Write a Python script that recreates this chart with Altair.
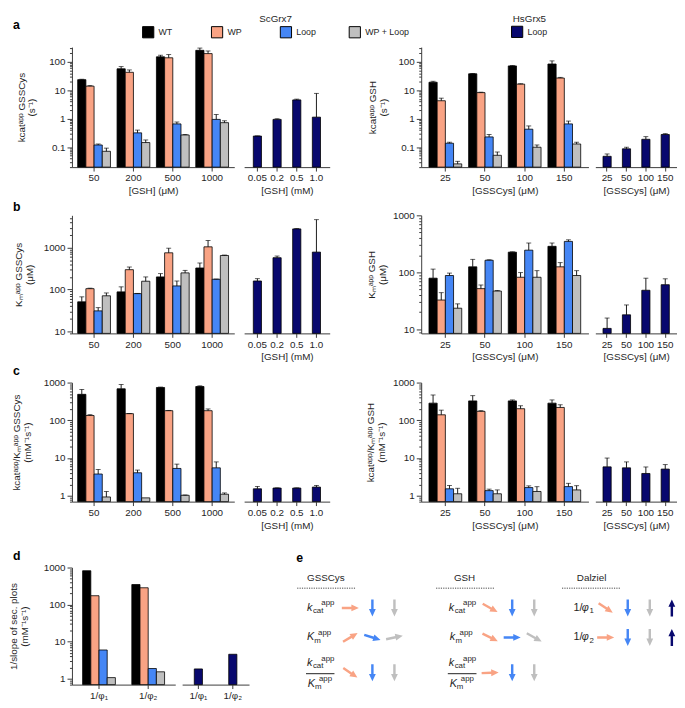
import math
import altair as alt
import pandas as pd

FONT = "Liberation Sans"
INK = "#1f1f1f"
AXC = "#3a3a3a"

VARIANTS = ["WT", "WP", "Loop", "WP + Loop"]
COLORS = ["#000000", "#F9A384", "#4586F5", "#BFBFBF"]
NAVY = "#08086E"

# ---------------- data ----------------
a_sc_conc = ["50", "200", "500", "1000"]
a_sc = {"WT": [23.7, 57, 150, 254], "WP": [14, 43, 139, 195],
        "Loop": [0.12, 0.32, 0.66, 0.95], "WP + Loop": [0.072, 0.146, 0.27, 0.73]}
a_sc_up = {"WT": [24.5, 68, 171, 305], "WP": [14.6, 52, 180, 241],
           "Loop": [0.13, 0.40, 0.77, 1.41], "WP + Loop": [0.093, 0.18, 0.28, 0.85]}
a_scl_conc = ["0.05", "0.2", "0.5", "1.0"]
a_scl = [0.247, 0.95, 4.6, 1.14]
a_scl_up = [0.25, 1.0, 4.9, 7.8]
a_hs_conc = ["25", "50", "100", "150"]
a_hs = {"WT": [19.2, 38, 72, 84], "WP": [4.3, 8.3, 16.5, 27],
        "Loop": [0.138, 0.23, 0.43, 0.66], "WP + Loop": [0.026, 0.052, 0.10, 0.13]}
a_hs_up = {"WT": [20.8, 39, 74, 108], "WP": [5.3, 8.6, 17, 28.5],
           "Loop": [0.15, 0.28, 0.56, 0.83], "WP + Loop": [0.032, 0.068, 0.12, 0.15]}
a_hsl_conc = ["25", "50", "100", "150"]
a_hsl = [0.048, 0.088, 0.19, 0.28]
a_hsl_up = [0.058, 0.10, 0.235, 0.30]

b_sc = {"WT": [51, 88, 200, 327], "WP": [105, 298, 753, 1045],
        "Loop": [31, 80, 122, 176], "WP + Loop": [71, 158, 250, 650]}
b_sc_up = {"WT": [67, 116, 240, 430], "WP": [108, 345, 970, 1480],
           "Loop": [37, 81, 160, 178], "WP + Loop": [83, 200, 287, 665]}
b_scl = [160, 575, 2800, 782]
b_scl_up = [182, 630, 2850, 4650]
b_hs = {"WT": [79, 125, 226, 286], "WP": [32.7, 51.8, 82, 125],
        "Loop": [88, 163, 245, 349], "WP + Loop": [23.5, 47, 82, 88]}
b_hs_up = {"WT": [114, 169, 229, 327], "WP": [44, 60, 99, 148],
           "Loop": [97, 166, 327, 372], "WP + Loop": [28, 48, 107, 107]}
b_hsl = [10.4, 18, 48.5, 60.7]
b_hsl_up = [15.8, 26.8, 79, 77]

c_sc = {"WT": [488, 684, 742, 787], "WP": [134, 150, 180, 180],
        "Loop": [3.77, 4.07, 5.3, 5.5], "WP + Loop": [0.93, 0.88, 1.03, 1.1]}
c_sc_up = {"WT": [658, 887, 760, 820], "WP": [141, 152, 183, 200],
           "Loop": [4.98, 4.8, 6.9, 7.9], "WP + Loop": [1.3, 0.88, 1.05, 1.19]}
c_scl = [1.53, 1.6, 1.6, 1.7]
c_scl_up = [1.77, 1.62, 1.62, 1.88]
c_hs = {"WT": [285, 327, 327, 285], "WP": [140, 173, 203, 219],
        "Loop": [1.53, 1.37, 1.65, 1.75], "WP + Loop": [1.13, 1.13, 1.3, 1.43]}
c_hs_up = {"WT": [469, 450, 347, 347], "WP": [186, 180, 243, 258],
           "Loop": [1.88, 1.5, 1.83, 2.14], "WP + Loop": [1.58, 1.43, 1.74, 1.85]}
c_hsl = [5.84, 5.5, 3.9, 5.1]
c_hsl_up = [10, 7.9, 5.8, 6.7]

d_cats = ["1/φ₁", "1/φ₂"]
d_vals = {"WT": [820, 348], "WP": [174, 285], "Loop": [6.0, 1.9], "WP + Loop": [1.08, 1.55]}
d_loop = [1.85, 4.6]

e_blocks = ["GSSCys", "GSH", "Dalziel"]
e_arrows = [
    ("GSSCys", 1, "WP", 90), ("GSSCys", 1, "Loop", 180), ("GSSCys", 1, "WP + Loop", 180),
    ("GSSCys", 2, "WP", 59), ("GSSCys", 2, "Loop", 107), ("GSSCys", 2, "WP + Loop", 78),
    ("GSSCys", 3, "WP", 124), ("GSSCys", 3, "Loop", 180), ("GSSCys", 3, "WP + Loop", 180),
    ("GSH", 1, "WP", 119), ("GSH", 1, "Loop", 180), ("GSH", 1, "WP + Loop", 180),
    ("GSH", 2, "WP", 116), ("GSH", 2, "Loop", 90), ("GSH", 2, "WP + Loop", 119),
    ("GSH", 3, "WP", 88), ("GSH", 3, "Loop", 180), ("GSH", 3, "WP + Loop", 180),
    ("Dalziel", 1, "WP", 124), ("Dalziel", 1, "Loop", 180), ("Dalziel", 1, "WP + Loop", 180),
    ("Dalziel", 2, "WP", 90), ("Dalziel", 2, "Loop", 180), ("Dalziel", 2, "WP + Loop", 180),
]
e_navy_arrows = [("Dalziel", 1, "Loop", 0), ("Dalziel", 2, "Loop", 0)]

e_header_x = [1.61, 7.9, 13.66]
e_rule_x = [0.31, 6.61, 12.32]
e_rule_len = 2.63
e_arrow_x0 = {"GSSCys": 2.72, "GSH": 9.06, "Dalziel": 14.3}
e_slot = {"WP": 0, "Loop": 1, "WP + Loop": 2, "navy": 3}
e_row_y = {1: 1.0, 2: 2.0, 3: 3.2}
e_kcat = [(1.0, 1.0), (7.43, 1.0), (1.0, 2.87), (7.43, 2.87)]
e_Km = [(1.08, 2.0), (1.12, 3.57), (7.55, 3.57)]
e_km = [(7.47, 2.0)]
e_phi = [(13.54, 1.0, "1"), (13.54, 2.0, "2")]
e_frac = [(0.71, 2.0), (7.14, 8.44)]

# ---------------- helpers ----------------
MAJOR = "abs(log(datum.value)/LN10 - round(log(datum.value)/LN10)) < 0.001"
COLOR_SCALE = alt.Scale(domain=VARIANTS, range=COLORS)
FILL_SCALE = alt.Scale(domain=["Loop"], range=[NAVY])

LEG_STYLE = dict(direction="horizontal", titleAnchor="middle", titleFont=FONT, titleFontSize=10,
                 titleFontWeight="normal", titleColor=INK, titlePadding=2, labelFont=FONT,
                 labelFontSize=9, labelColor=INK, labelOffset=4, symbolType="square",
                 symbolSize=130, symbolStrokeColor="black", symbolStrokeWidth=1, symbolOpacity=1)
COLOR_LEGEND = alt.Legend(orient="none", legendX=71, legendY=-34, columns=4, gridAlign="all",
                          columnPadding=6, title="ScGrx7", **LEG_STYLE)
FILL_LEGEND = alt.Legend(orient="none", legendX=446, legendY=-34, title="HsGrx5", **LEG_STYLE)


def log_ticks(lo, hi):
    vals = []
    e = math.floor(math.log10(lo))
    while 10 ** e <= hi * 1.0001:
        for m in range(1, 10):
            v = float(f"{m * 10 ** e:.6g}")
            if lo * 0.9999 <= v <= hi * 1.0001:
                vals.append(v)
        e += 1
    return vals


def y_axis(dom, title, pad):
    return alt.Axis(values=log_ticks(*dom), labelExpr=f"({MAJOR}) ? format(datum.value, '~g') : ''",
                    tickSize={"condition": {"test": MAJOR, "value": 5}, "value": 2.5},
                    labelOverlap=False, labelPadding=2, title=title, titlePadding=pad,
                    titleLineHeight=11, labelFontSize=10)


def x_axis(title):
    if title:
        return alt.Axis(title=title, labelAngle=0, tickSize=4, labelPadding=2, titlePadding=3,
                        labelFontSize=10)
    return alt.Axis(labelAngle=0, tickSize=4, labelPadding=2, labelFontSize=10, title="")


def letter(t, dx, offset):
    return alt.TitleParams(t, anchor="start", frame="group", dx=dx, offset=offset, fontSize=12.5,
                           fontWeight="bold", font=FONT, color="black")


def group_panel(cats, series, uppers, dom, w, h, pi, po, xtitle, ytitle, tpad, title=None):
    rows = []
    for v in VARIANTS:
        ups = uppers[v] if uppers else series[v]
        for c, val, up in zip(cats, series[v], ups):
            rows.append({"cat": c, "variant": v, "value": val, "upper": up})
    df = pd.DataFrame(rows)
    xs = alt.Scale(paddingInner=pi, paddingOuter=po)
    ys = alt.Scale(type="log", domain=dom, nice=False)
    xax = x_axis(xtitle)
    yax = y_axis(dom, ytitle, tpad)
    xe = alt.X("cat:N", sort=cats, scale=xs, axis=xax)
    xo = alt.XOffset("variant:N", sort=VARIANTS, scale=alt.Scale(paddingInner=0, paddingOuter=0))
    col = alt.Color("variant:N", scale=COLOR_SCALE, legend=COLOR_LEGEND)
    base = alt.Chart(df)
    bars = base.mark_bar(stroke="black", strokeWidth=0.8).encode(
        x=xe, xOffset=xo, y=alt.Y("value:Q", scale=ys, axis=yax), y2=alt.datum(dom[0]), color=col)
    eb = base.transform_filter("datum.upper > datum.value * 1.005")
    rule = eb.mark_rule(color="black", strokeWidth=0.9).encode(
        x=xe, xOffset=xo, y=alt.Y("value:Q", scale=ys, axis=yax), y2="upper:Q")
    cap = eb.mark_tick(color="black", thickness=0.9, size=5, orient="horizontal").encode(
        x=xe, xOffset=xo, y=alt.Y("upper:Q", scale=ys, axis=yax))
    ch = alt.layer(bars, rule, cap).properties(width=w, height=h)
    if title is not None:
        ch = ch.properties(title=title)
    return ch


def loop_panel(cats, vals, ups, dom, w, h, pi, po, xtitle):
    ups = ups if ups else vals
    df = pd.DataFrame({"cat": cats, "value": vals, "upper": ups, "series": ["Loop"] * len(cats)})
    xs = alt.Scale(paddingInner=pi, paddingOuter=po)
    ys = alt.Scale(type="log", domain=dom, nice=False)
    xe = alt.X("cat:N", sort=cats, scale=xs, axis=x_axis(xtitle))
    base = alt.Chart(df)
    bars = base.mark_bar(stroke="black", strokeWidth=0.8).encode(
        x=xe, y=alt.Y("value:Q", scale=ys, axis=None), y2=alt.datum(dom[0]),
        fill=alt.Fill("series:N", scale=FILL_SCALE, legend=FILL_LEGEND),
    )
    eb = base.transform_filter("datum.upper > datum.value * 1.005")
    rule = eb.mark_rule(color="black", strokeWidth=0.9).encode(
        x=xe, y=alt.Y("value:Q", scale=ys, axis=None), y2="upper:Q")
    cap = eb.mark_tick(color="black", thickness=0.9, size=5, orient="horizontal").encode(
        x=xe, y=alt.Y("upper:Q", scale=ys, axis=None))
    return alt.layer(bars, rule, cap).properties(width=w, height=h)


def spacer(w, h):
    return alt.Chart(pd.DataFrame({"v": [0]})).mark_point(opacity=0).encode(
        x=alt.X("v:Q", axis=None), y=alt.Y("v:Q", axis=None)).properties(width=w, height=h)


EX = alt.Scale(domain=[0, 17.4])
EY = alt.Scale(domain=[-0.37, 3.6], reverse=True)


def exy():
    return dict(x=alt.X("x:Q", scale=EX, axis=None), y=alt.Y("y:Q", scale=EY, axis=None))


def txt(df, text, align, size, dx=0, dy=0, style="normal"):
    return alt.Chart(df).mark_text(text=text, align=align, baseline="middle", fontSize=size,
                                   fontStyle=style, font=FONT, color=INK, dx=dx, dy=dy).encode(**exy())


def panel_e(w, h):
    layers = []
    hdr = pd.DataFrame({"name": e_blocks, "x": e_header_x, "y": [0.0] * 3})
    layers.append(alt.Chart(hdr).mark_text(fontSize=10, font=FONT, baseline="middle", color=INK)
                  .encode(text="name:N", **exy()))
    dots = pd.DataFrame({"x": e_rule_x, "x2": [v + e_rule_len for v in e_rule_x], "y": [0.33] * 3})
    layers.append(alt.Chart(dots).mark_rule(strokeDash=[1.2, 1.2], strokeWidth=1, color="#444")
                  .encode(x2="x2:Q", **exy()))
    frac = pd.DataFrame({"x": [f[0] for f in e_frac], "x2": [f[1] for f in e_frac], "y": [3.23] * 2})
    layers.append(alt.Chart(frac).mark_rule(strokeWidth=1, color=INK).encode(x2="x2:Q", **exy()))
    dk = pd.DataFrame(e_kcat, columns=["x", "y"])
    layers += [txt(dk, "k", "right", 11, style="italic"), txt(dk, "cat", "left", 8, 0.5, 3.5),
               txt(dk, "app", "left", 8, 9, -4.5)]
    dK = pd.DataFrame(e_Km, columns=["x", "y"])
    layers += [txt(dK, "K", "right", 11, style="italic"), txt(dK, "m", "left", 8, 0, 3.5),
               txt(dK, "app", "left", 8, 4, -4.5)]
    dk2 = pd.DataFrame(e_km, columns=["x", "y"])
    layers += [txt(dk2, "k", "right", 11, style="italic"), txt(dk2, "m", "left", 8, 0.5, 3.5),
               txt(dk2, "app", "left", 8, 4.5, -4.5)]
    dp = pd.DataFrame(e_phi, columns=["x", "y", "sub"])
    layers += [txt(dp, "1/", "right", 11, -6.5), txt(dp, "φ", "right", 11, style="italic"),
               alt.Chart(dp).mark_text(align="left", baseline="middle", fontSize=8, font=FONT,
                                       color=INK, dx=0.5, dy=3.5).encode(text="sub:N", **exy())]
    arr = pd.DataFrame([{"x": e_arrow_x0[b] + e_slot[v], "y": e_row_y[r], "variant": v, "angle": a}
                        for b, r, v, a in e_arrows])
    layers.append(alt.Chart(arr).mark_point(shape="arrow", filled=True, size=300, opacity=1, strokeWidth=0)
                  .encode(angle=alt.Angle("angle:Q", scale=None),
                          color=alt.Color("variant:N", scale=COLOR_SCALE, legend=COLOR_LEGEND), **exy()))
    narr = pd.DataFrame([{"x": e_arrow_x0[b] + e_slot["navy"], "y": e_row_y[r], "series": v, "angle": a}
                         for b, r, v, a in e_navy_arrows])
    layers.append(alt.Chart(narr).mark_point(shape="arrow", filled=True, size=300, opacity=1, strokeWidth=0)
                  .encode(angle=alt.Angle("angle:Q", scale=None),
                          fill=alt.Fill("series:N", scale=FILL_SCALE, legend=FILL_LEGEND), **exy()))
    return alt.layer(*layers).properties(width=w, height=h, title=letter("e", 6, 3))


# ---------------- layout ----------------
W_G1, W_L1, W_G2, W_L2 = 165, 87, 170, 83
GAP1, GAP2, GAP3 = 10, 93, 7
DOM_A = [0.02, 330]
DOM_B1 = [9, 5900]
DOM_B2 = [8.5, 1000]
DOM_C = [0.7, 1000]
DOM_D = [0.7, 1000]
H_A, H_B, H_C, H_D = 122, 120, 121, 119

G1P = (0.1675, 0.146)
L1P = (0.585, 0.4675)
G2P = (0.174, 0.196)
L2P = (0.579, 0.396)

row_a = [
    group_panel(a_sc_conc, a_sc, a_sc_up, DOM_A, W_G1, H_A, *G1P, "[GSH] (μM)",
                ["kcatᵃᵖᵖ GSSCys", "(s⁻¹)"], 12, title=letter("a", -60, 12)),
    spacer(GAP1, H_A),
    loop_panel(a_scl_conc, a_scl, a_scl_up, DOM_A, W_L1, H_A, *L1P, "[GSH] (mM)"),
    spacer(GAP2, H_A),
    group_panel(a_hs_conc, a_hs, a_hs_up, DOM_A, W_G2, H_A, *G2P, "[GSSCys] (μM)",
                ["kcatᵃᵖᵖ GSH", "(s⁻¹)"], 10),
    spacer(GAP3, H_A),
    loop_panel(a_hsl_conc, a_hsl, a_hsl_up, DOM_A, W_L2, H_A, *L2P, "[GSSCys] (μM)"),
]
row_b = [
    group_panel(a_sc_conc, b_sc, b_sc_up, DOM_B1, W_G1, H_B, *G1P, None,
                ["Kₘᵃᵖᵖ GSSCys", "(μM)"], 9, title=letter("b", -60, 0)),
    spacer(GAP1, H_B),
    loop_panel(a_scl_conc, b_scl, b_scl_up, DOM_B1, W_L1, H_B, *L1P, "[GSH] (mM)"),
    spacer(GAP2, H_B),
    group_panel(a_hs_conc, b_hs, b_hs_up, DOM_B2, W_G2, H_B, *G2P, "[GSSCys] (μM)",
                ["Kₘᵃᵖᵖ GSH", "(μM)"], 5),
    spacer(GAP3, H_B),
    loop_panel(a_hsl_conc, b_hsl, b_hsl_up, DOM_B2, W_L2, H_B, *L2P, "[GSSCys] (μM)"),
]
row_c = [
    group_panel(a_sc_conc, c_sc, c_sc_up, DOM_C, W_G1, H_C, *G1P, None,
                ["kcatᵃᵖᵖ/Kₘᵃᵖᵖ GSSCys", "(mM⁻¹s⁻¹)"], 11, title=letter("c", -60, 0)),
    spacer(GAP1, H_C),
    loop_panel(a_scl_conc, c_scl, c_scl_up, DOM_C, W_L1, H_C, *L1P, "[GSH] (mM)"),
    spacer(GAP2, H_C),
    group_panel(a_hs_conc, c_hs, c_hs_up, DOM_C, W_G2, H_C, *G2P, "[GSSCys] (μM)",
                ["kcatᵃᵖᵖ/Kₘᵃᵖᵖ GSH", "(mM⁻¹s⁻¹)"], 6),
    spacer(GAP3, H_C),
    loop_panel(a_hsl_conc, c_hsl, c_hsl_up, DOM_C, W_L2, H_C, *L2P, "[GSSCys] (μM)"),
]
row_d = [
    group_panel(d_cats, d_vals, None, DOM_D, 105, H_D, 0.334, 0.217, None,
                ["1/slope of sec. plots", "(mM⁻¹s⁻¹)"], 14, title=letter("d", -60, 0)),
    spacer(7, H_D),
    loop_panel(d_cats, d_loop, None, DOM_D, 68, H_D, 0.763, 0.353, None),
    spacer(42, H_D),
    panel_e(390, H_D),
]


def gap_row(h):
    return [spacer(1, h) for _ in range(7)]


abc = alt.ConcatChart(concat=row_a + gap_row(49) + row_b + gap_row(50) + row_c,
                      columns=7, align="each", bounds="flush", spacing=0)
dgrid = alt.HConcatChart(hconcat=row_d, bounds="flush", spacing=0)

chart = alt.VConcatChart(vconcat=[abc, dgrid], spacing=20)
chart = chart.resolve_scale(x="independent", y="independent", xOffset="independent")
chart = chart.properties(padding=0).configure_view(stroke=None).configure_axis(
    labelFont=FONT, titleFont=FONT, titleFontSize=10, titleFontWeight="normal",
    labelColor=INK, titleColor=INK, domainColor=AXC, tickColor=AXC, grid=False)

chart.save("out.html", embed_options={"renderer": "svg", "actions": False})
